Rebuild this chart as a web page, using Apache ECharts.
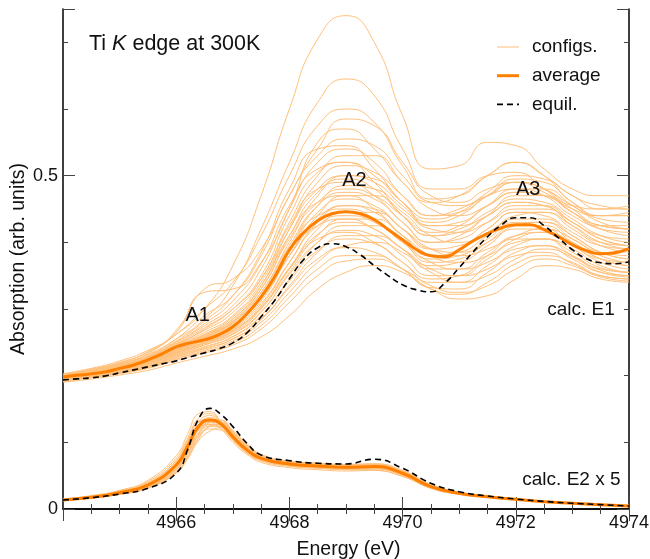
<!DOCTYPE html>
<html>
<head>
<meta charset="utf-8">
<script src="https://cdn.jsdelivr.net/npm/echarts@6/dist/echarts.min.js"></script>
<style>
html,body{margin:0;padding:0;background:#fff;}
#c{width:650px;height:559px;}
</style>
</head>
<body>
<div id="c"></div>
<script>
// ---------------- DATA ----------------
// E1 average / equilibrium curves (read every 0.25 eV)
const energyE1fine = [4964,4964.25,4964.5,4964.75,4965,4965.25,4965.5,4965.75,4966,4966.25,4966.5,4966.75,4967,4967.25,4967.5,4967.75,4968,4968.25,4968.5,4968.75,4969,4969.25,4969.5,4969.75,4970,4970.25,4970.5,4970.75,4971,4971.25,4971.5,4971.75,4972,4972.25,4972.5,4972.75,4973,4973.25,4973.5,4973.75,4974];
const averageE1 = [.198,.2005,.2027,.2057,.211,.216,.2237,.2327,.2432,.2492,.2538,.2613,.2733,.2928,.3183,.3498,.3889,.4144,.4324,.4429,.4459,.4429,.4339,.4189,.4039,.3889,.3799,.3784,.3889,.4024,.4129,.4219,.4264,.4264,.4189,.4084,.3964,.3874,.3829,.3844,.3904];
const equilE1 = [.1937,.1952,.1967,.1997,.2042,.2087,.2132,.2177,.2222,.2282,.2342,.2402,.2492,.2643,.2883,.3138,.3453,.3739,.3919,.3979,.3934,.3814,.3649,.3498,.3363,.3288,.3258,.3393,.3619,.3859,.4084,.4264,.4369,.4369,.4249,.4069,.3889,.3754,.3694,.3679,.3709];
// E1 individual configurations (read every 0.5 eV)
const energyE1 = [4964,4964.5,4965,4965.5,4966,4966.5,4967,4967.5,4968,4968.5,4969,4969.5,4970,4970.5,4971,4971.5,4972,4972.5,4973,4973.5,4974];
const configsE1 = [
 [.203,.211,.222,.238,.262,.300,.365,.470,.600,.705,.740,.700,.590,.510,.515,.550,.545,.510,.480,.470,.470],
 [.200,.208,.218,.232,.255,.285,.335,.420,.520,.610,.645,.620,.540,.480,.480,.500,.505,.480,.455,.450,.455],
 [.201,.209,.219,.235,.262,.300,.340,.410,.500,.575,.600,.580,.515,.465,.470,.500,.520,.500,.470,.455,.450],
 [.199,.207,.217,.233,.268,.330,.345,.390,.470,.540,.585,.575,.520,.470,.460,.480,.490,.475,.450,.440,.445],
 [.202,.210,.220,.236,.265,.325,.330,.370,.450,.550,.570,.540,.490,.460,.470,.500,.520,.500,.460,.440,.440],
 [.200,.208,.217,.230,.255,.290,.320,.380,.470,.530,.555,.545,.500,.460,.455,.470,.490,.480,.455,.435,.430],
 [.198,.206,.215,.228,.250,.275,.305,.360,.450,.520,.540,.520,.470,.440,.450,.470,.480,.470,.440,.425,.425],
 [.199,.206,.214,.226,.247,.268,.295,.345,.430,.500,.530,.530,.490,.450,.440,.455,.475,.470,.445,.420,.415],
 [.197,.204,.212,.224,.244,.262,.285,.335,.420,.490,.515,.505,.470,.440,.445,.470,.490,.480,.450,.425,.420],
 [.198,.205,.213,.225,.246,.270,.300,.350,.440,.505,.520,.490,.440,.410,.420,.440,.460,.455,.430,.410,.405],
 [.196,.203,.211,.222,.240,.258,.280,.325,.400,.470,.500,.495,.460,.425,.425,.445,.465,.460,.435,.410,.400],
 [.197,.204,.212,.223,.242,.260,.285,.330,.410,.475,.495,.480,.440,.410,.415,.440,.460,.455,.425,.400,.395],
 [.199,.207,.215,.227,.248,.272,.300,.345,.425,.480,.490,.470,.430,.400,.410,.440,.470,.470,.445,.420,.410],
 [.196,.203,.210,.221,.238,.255,.275,.318,.390,.455,.485,.480,.450,.420,.415,.430,.450,.450,.430,.405,.395],
 [.197,.204,.212,.223,.241,.258,.282,.325,.395,.455,.475,.465,.430,.400,.405,.430,.455,.455,.430,.405,.395],
 [.195,.202,.209,.220,.237,.253,.272,.312,.380,.440,.470,.470,.445,.410,.400,.415,.440,.445,.425,.400,.390],
 [.196,.203,.211,.222,.240,.256,.278,.318,.385,.445,.465,.455,.420,.390,.395,.420,.445,.445,.420,.395,.385],
 [.198,.205,.213,.224,.244,.262,.288,.335,.410,.460,.470,.450,.410,.380,.390,.420,.445,.440,.415,.395,.390],
 [.195,.202,.209,.219,.235,.250,.268,.305,.370,.430,.455,.450,.420,.390,.385,.400,.425,.430,.410,.385,.375],
 [.196,.203,.210,.220,.238,.254,.275,.315,.380,.435,.455,.445,.410,.380,.385,.410,.435,.435,.410,.385,.375],
 [.197,.204,.211,.222,.240,.257,.280,.320,.390,.440,.450,.435,.400,.375,.380,.405,.430,.430,.405,.385,.380],
 [.194,.201,.208,.218,.234,.248,.265,.300,.360,.420,.445,.445,.420,.390,.380,.390,.410,.420,.405,.380,.370],
 [.195,.202,.209,.219,.236,.251,.270,.308,.370,.425,.440,.430,.400,.370,.375,.400,.425,.425,.400,.375,.365],
 [.196,.203,.210,.221,.238,.255,.276,.316,.380,.425,.435,.420,.390,.365,.370,.395,.420,.420,.395,.375,.370],
 [.194,.200,.207,.217,.232,.246,.262,.295,.355,.410,.435,.435,.410,.380,.370,.380,.405,.415,.400,.375,.365],
 [.195,.201,.208,.218,.234,.249,.267,.302,.362,.412,.430,.420,.390,.360,.360,.385,.410,.415,.395,.370,.360],
 [.193,.199,.206,.215,.230,.243,.258,.290,.345,.400,.425,.425,.400,.370,.360,.370,.395,.405,.390,.365,.355],
 [.194,.200,.207,.217,.232,.246,.263,.296,.352,.400,.418,.410,.380,.350,.350,.375,.400,.405,.385,.362,.355],
 [.195,.201,.208,.218,.234,.249,.268,.302,.360,.405,.415,.400,.370,.345,.350,.380,.405,.405,.380,.360,.355],
 [.193,.199,.205,.214,.228,.241,.255,.285,.335,.385,.410,.410,.390,.360,.350,.360,.385,.395,.380,.358,.350],
 [.194,.200,.206,.215,.230,.243,.259,.290,.342,.388,.405,.398,.370,.340,.340,.365,.390,.395,.375,.355,.350],
 [.192,.198,.204,.213,.226,.238,.252,.280,.325,.370,.395,.400,.385,.355,.340,.350,.375,.390,.378,.355,.348],
 [.193,.199,.205,.214,.228,.240,.255,.284,.332,.375,.392,.385,.360,.332,.330,.355,.380,.385,.368,.350,.345],
 [.192,.198,.204,.212,.225,.236,.249,.275,.318,.360,.380,.380,.360,.330,.322,.340,.368,.380,.370,.350,.345],
 [.191,.197,.203,.211,.223,.234,.246,.270,.310,.350,.372,.375,.360,.335,.325,.335,.360,.375,.365,.348,.342],
 [.190,.195,.201,.208,.219,.229,.240,.258,.290,.330,.355,.365,.355,.330,.315,.320,.345,.365,.360,.345,.340],
 [.199,.207,.216,.229,.252,.282,.320,.385,.480,.540,.545,.510,.460,.430,.440,.470,.495,.490,.460,.440,.440],
 [.198,.206,.214,.227,.250,.278,.312,.368,.455,.510,.520,.500,.460,.435,.445,.475,.500,.495,.470,.450,.450],
 [.197,.205,.213,.225,.245,.265,.290,.340,.420,.480,.500,.490,.455,.425,.430,.455,.475,.470,.445,.425,.420],
 [.196,.204,.212,.223,.242,.260,.282,.330,.405,.460,.480,.470,.440,.415,.425,.455,.480,.480,.455,.430,.420]
];

const energyE2 = [4964,4964.5,4965,4965.5,4966,4966.2,4966.4,4966.6,4966.8,4967,4967.25,4967.5,4968,4968.5,4969,4969.5,4970,4970.5,4971,4971.5,4972,4972.5,4973,4973.5,4974];
const averageE2 = [.0135,.0175,.0245,.036,.066,.0936,.1246,.1336,.127,.1086,.0886,.076,.0676,.0646,.0626,.0636,.0536,.0335,.0235,.0185,.0146,.011,.0086,.0065,.0045];
const equilE2 = [.0135,.017,.0225,.031,.0536,.0886,.136,.151,.141,.1236,.0986,.081,.0725,.0686,.0676,.0746,.061,.0386,.026,.0195,.015,.0114,.0086,.0065,.0045];
const configsE2 = [
 [.015,.020,.028,.043,.080,.112,.143,.146,.128,.104,.085,.074,.068,.066,.066,.066,.054,.034,.024,.019,.015,.011,.0088,.0066,.0046],
 [.0145,.019,.027,.041,.076,.106,.137,.143,.130,.107,.087,.075,.069,.067,.066,.067,.056,.035,.024,.019,.015,.0112,.0087,.0066,.0046],
 [.014,.018,.026,.039,.072,.101,.132,.140,.131,.110,.089,.076,.069,.066,.065,.066,.056,.036,.025,.019,.015,.011,.0087,.0065,.0045],
 [.014,.018,.025,.037,.068,.096,.127,.137,.131,.110,.090,.077,.070,.067,.065,.066,.055,.034,.024,.019,.015,.011,.0086,.0065,.0045],
 [.0135,.0175,.024,.035,.063,.089,.120,.134,.133,.115,.093,.079,.071,.068,.066,.067,.057,.036,.025,.019,.015,.011,.0087,.0065,.0045],
 [.013,.017,.023,.033,.058,.082,.112,.130,.133,.117,.096,.081,.072,.069,.067,.068,.058,.037,.025,.019,.015,.0112,.0087,.0066,.0046],
 [.013,.0165,.022,.032,.055,.077,.106,.125,.130,.118,.098,.082,.071,.068,.066,.066,.056,.035,.024,.0185,.0145,.011,.0086,.0065,.0045],
 [.0135,.0175,.024,.035,.064,.091,.119,.127,.121,.103,.084,.072,.064,.061,.059,.060,.051,.032,.0225,.018,.014,.0107,.0084,.0064,.0044],
 [.014,.018,.025,.036,.066,.094,.121,.127,.119,.100,.082,.070,.062,.059,.057,.058,.049,.031,.022,.0175,.014,.0106,.0083,.0063,.0044],
 [.0135,.0175,.0245,.036,.065,.092,.119,.126,.123,.106,.087,.074,.065,.062,.060,.060,.051,.032,.023,.018,.0142,.0108,.0085,.0064,.0044],
 [.013,.017,.023,.034,.061,.086,.114,.124,.124,.110,.091,.077,.067,.063,.061,.061,.052,.033,.023,.018,.0143,.0108,.0085,.0064,.0044],
 [.0125,.016,.022,.031,.054,.075,.103,.117,.122,.113,.096,.081,.069,.064,.061,.061,.052,.033,.023,.018,.0143,.0108,.0085,.0064,.0044],
 [.013,.017,.023,.033,.059,.083,.111,.120,.118,.104,.086,.074,.066,.062,.059,.058,.049,.031,.022,.0175,.014,.0106,.0083,.0063,.0043],
 [.0145,.0185,.026,.038,.070,.099,.128,.134,.125,.106,.087,.075,.068,.065,.064,.065,.055,.035,.024,.019,.0148,.011,.0086,.0065,.0045],
 [.014,.0185,.0255,.0375,.069,.097,.126,.134,.127,.109,.089,.076,.069,.066,.064,.064,.054,.034,.024,.019,.0148,.011,.0086,.0065,.0045],
 [.0135,.0175,.024,.035,.062,.088,.119,.132,.130,.113,.092,.078,.070,.067,.065,.066,.056,.035,.024,.019,.0147,.011,.0086,.0065,.0045],
 [.013,.017,.0235,.034,.060,.085,.115,.130,.130,.114,.094,.079,.070,.066,.064,.064,.054,.034,.024,.0185,.0145,.011,.0086,.0065,.0045],
 [.0135,.0175,.0245,.0365,.067,.095,.124,.132,.125,.106,.087,.075,.067,.064,.062,.063,.053,.033,.0235,.0185,.0145,.011,.0085,.0064,.0045],
 [.014,.018,.025,.037,.068,.097,.126,.132,.124,.105,.086,.074,.067,.065,.063,.064,.054,.034,.024,.0187,.0147,.011,.0086,.0065,.0045],
 [.0125,.0165,.022,.032,.056,.079,.108,.124,.127,.115,.096,.081,.071,.067,.064,.064,.054,.034,.024,.0185,.0145,.011,.0085,.0064,.0045],
 [.0145,.019,.0265,.039,.073,.103,.131,.135,.124,.104,.085,.073,.066,.063,.062,.062,.052,.033,.023,.018,.0143,.0108,.0085,.0064,.0044],
 [.0135,.0175,.0245,.036,.066,.093,.122,.130,.125,.108,.088,.075,.066,.063,.061,.062,.052,.033,.023,.018,.0144,.0108,.0085,.0064,.0044]
];

const xTickLabels = ['4966','4968','4970','4972','4974'];
const yTickLabels = ['0','0.5'];
const legendNames = ['configs.','average','equil.'];
// annotations: [text, energy, absorption, align, fontSize]
const annotations = [
 ['A1', 4966.38, 0.290, 'center', 20],
 ['A2', 4969.15, 0.493, 'center', 20],
 ['A3', 4972.22, 0.479, 'center', 20],
 ['calc. E1', 4973.75, 0.299, 'right', 19],
 ['calc. E2 x 5', 4973.85, 0.044, 'right', 19]
];
const titleText = {pre:'Ti ', italic:'K', post:' edge at 300K', energy:4964.46, absorption:0.697};

// ---------------- CHART ----------------
const cfgColor = '#ffc07a';
const avgColor = '#ff7f00';
const FONT = '"Liberation Sans", Arial, Helvetica, sans-serif';
const chart = echarts.init(document.getElementById('c'), null, {renderer:'canvas'});

const cfgStyle = {color:cfgColor, width:1};
const avgStyle = {color:avgColor, width:3};
const eqStyle = {color:'#000', width:1.6, type:[6,4]};

const series = [];
function pairs(xs, ys){ return xs.map((x,i)=>[x, ys[i]]); }
configsE1.forEach(c => series.push({type:'line', name:legendNames[0], data:pairs(energyE1,c), smooth:0.55, symbol:'none', silent:true, z:2, lineStyle:cfgStyle}));
configsE2.forEach(c => series.push({type:'line', name:legendNames[0], data:pairs(energyE2,c), smooth:0.5, symbol:'none', silent:true, z:2, lineStyle:cfgStyle}));
[[energyE1fine,averageE1],[energyE2,averageE2]].forEach(([xs,ys]) => series.push({type:'line', name:legendNames[1], data:pairs(xs,ys), smooth:0.5, symbol:'none', z:3, lineStyle:avgStyle}));
[[energyE1fine,equilE1],[energyE2,equilE2]].forEach(([xs,ys]) => series.push({type:'line', name:legendNames[2], data:pairs(xs,ys), smooth:0.5, symbol:'none', z:4, lineStyle:eqStyle}));

const axisLineStyle = {show:true, lineStyle:{color:'#000', width:1.5}};
const tickStyle = {color:'#444', width:1};
const xBase = {type:'value', min:4964, max:4974, interval:2, splitLine:{show:false},
  axisLine:axisLineStyle, axisTick:{show:true, inside:true, length:12, lineStyle:tickStyle},
  minorTick:{show:true, splitNumber:4, length:5, lineStyle:tickStyle}, minorSplitLine:{show:false}};
const yMinor = {type:'value', min:0, max:0.75, interval:0.1, splitLine:{show:false},
  axisLine:axisLineStyle, axisTick:{show:true, inside:true, length:5, lineStyle:tickStyle}};
const yMajor = {type:'value', min:0, max:0.75, interval:0.5, splitLine:{show:false},
  axisLine:{show:false}, axisLabel:{show:false}, axisTick:{show:true, inside:true, length:12, lineStyle:tickStyle}};

chart.setOption({
  animation:false,
  backgroundColor:'#fff',
  textStyle:{fontFamily:FONT},
  grid:{left:63, right:21, top:9, bottom:50, containLabel:false, outerBoundsMode:'none'},
  xAxis:[
    Object.assign({}, xBase, {position:'bottom', name:'Energy (eV)', nameLocation:'middle', nameGap:31, nameMoveOverlap:false,
      nameTextStyle:{fontSize:19.5, color:'#111', fontFamily:FONT, padding:[0,0,0,5]},
      axisLabel:{show:true, fontSize:18, color:'#111', margin:5, fontFamily:FONT,
        formatter:v => { const s = String(Math.round(v)); return xTickLabels.indexOf(s) >= 0 ? s : ''; }}}),
    Object.assign({}, xBase, {position:'top', axisLabel:{show:false}})
  ],
  yAxis:[
    Object.assign({}, yMinor, {position:'left', name:'Absorption (arb. units)', nameLocation:'middle', nameGap:34, nameMoveOverlap:false,
      nameTextStyle:{fontSize:19.5, color:'#111', fontFamily:FONT},
      axisLabel:{show:true, fontSize:18, color:'#111', margin:5, fontFamily:FONT, showMaxLabel:false,
        formatter:v => { const s = String(Math.round(v*10)/10); return yTickLabels.indexOf(s) >= 0 ? s : ''; }}}),
    Object.assign({}, yMajor, {position:'left'}),
    Object.assign({}, yMinor, {position:'right', axisLabel:{show:false}}),
    Object.assign({}, yMajor, {position:'right'})
  ],
  series: series
});

const graphics = annotations.map(([t, e, a, align, fs]) => {
  const p = chart.convertToPixel({xAxisIndex:0, yAxisIndex:0}, [e, a]);
  return {type:'text', x:p[0], y:p[1], z:10, style:{text:t, fontSize:fs, fontFamily:FONT, fill:'#111', align:align, verticalAlign:'middle'}};
});
const tp = chart.convertToPixel({xAxisIndex:0, yAxisIndex:0}, [titleText.energy, titleText.absorption]);
graphics.push({type:'text', x:tp[0], y:tp[1], z:10, style:{
  text:'{n|' + titleText.pre + '}{i|' + titleText.italic + '}{n|' + titleText.post + '}',
  align:'left', verticalAlign:'middle',
  rich:{n:{fontSize:21.5, fontFamily:FONT, fill:'#111'}, i:{fontSize:21.5, fontFamily:FONT, fontStyle:'italic', fill:'#111'}}}});
// legend (key samples drawn with the same styles as the series)
const legendStyles = [cfgStyle, avgStyle, eqStyle];
const legX = 497, legY = 47, legRow = 28.7, legLen = 22;
legendNames.forEach((n, i) => {
  const y = legY + i * legRow;
  const s = legendStyles[i];
  graphics.push({type:'line', z:10, shape:{x1:legX, y1:y, x2:legX + legLen, y2:y},
    style:{stroke:s.color, lineWidth:s.width, lineDash:Array.isArray(s.type) ? s.type : null}});
  graphics.push({type:'text', z:10, x:legX + 35, y:y, style:{text:n, fontSize:19, fontFamily:FONT, fill:'#111', align:'left', verticalAlign:'middle'}});
});
chart.setOption({graphic:graphics});
</script>
</body>
</html>
